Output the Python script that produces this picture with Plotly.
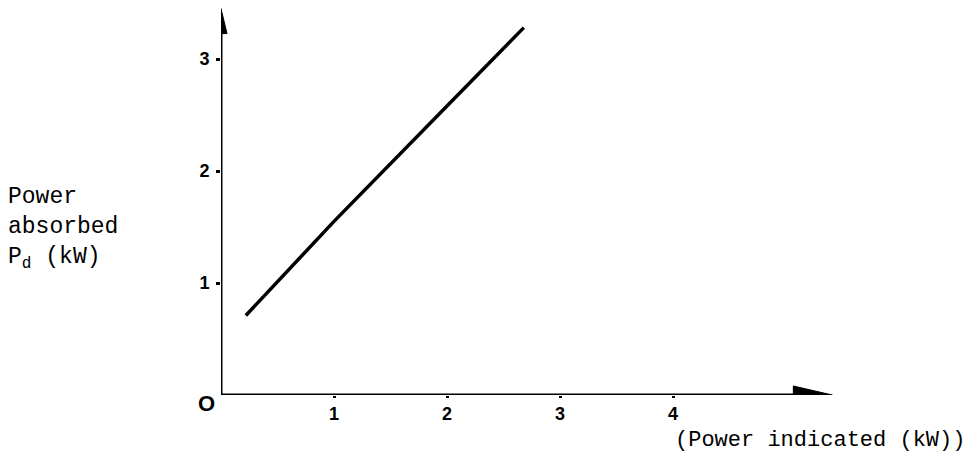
import plotly.graph_objects as go

# line (kW)
power_indicated = [0.22, 1.0, 2.0, 2.68]
power_absorbed = [0.71, 1.55, 2.58, 3.28]

x_ticks = [1, 2, 3, 4]
y_ticks = [1, 2, 3]
x_axis_end = 5.41
y_axis_end = 3.45

# the page body adds an 8px margin, so the figure is drawn 8px smaller
OFF = 8
W, H = 971 - OFF, 474 - OFF
OX, OY = 221 - OFF, 395 - OFF   # origin in figure pixels
L, B = OX, H - OY
UX, UY = 113.0, 112.0           # pixels per kW


def px(xp):
    # reference pixel -> paper x
    return (xp - OFF - L) / (W - L)


def py(yp):
    # reference pixel -> paper y
    return (OY - (yp - OFF)) / OY


mono = "Liberation Mono"
sans = "Liberation Sans"

fig = go.Figure()
fig.add_trace(go.Scatter(x=power_indicated, y=power_absorbed, mode="lines",
                         line=dict(color="black", width=3.5), cliponaxis=False,
                         hoverinfo="skip", showlegend=False))

shapes = [
    # axis lines
    dict(type="line", x0=0, y0=0, x1=x_axis_end - 0.3, y1=0, xref="x", yref="y",
         line=dict(color="black", width=3)),
    dict(type="line", x0=0, y0=0, x1=0, y1=y_axis_end - 0.18, xref="x", yref="y",
         line=dict(color="black", width=3)),
    # arrow heads
    dict(type="path", xref="x", yref="y", xsizemode="pixel", ysizemode="pixel",
         xanchor=x_axis_end, yanchor=0, path="M -39,-9 L 0,0 L -39,9 Z",
         fillcolor="black", line=dict(color="black", width=1)),
    dict(type="path", xref="x", yref="y", xsizemode="pixel", ysizemode="pixel",
         xanchor=0, yanchor=y_axis_end, path="M -6,-25 L 0,0 L 6,-25 Z",
         fillcolor="black", line=dict(color="black", width=1)),
]


def label(text, x, y, xanchor, size, family):
    return dict(text=text, x=px(x), y=py(y), xref="paper", yref="paper",
                showarrow=False, xanchor=xanchor, yanchor="middle", align="left",
                font=dict(family=family, size=size, color="black"))


annotations = [
    label("O", 206, 403, "center", 22, sans),
    label("Power<br>absorbed<br>P<sub>d</sub> (kW)", 6, 228, "left", 23, mono),
    label("(Power indicated (kW))", 967, 440, "right", 22, mono),
]
annotations[0]["font"]["weight"] = "bold"

tick_font = dict(family=sans, size=18, color="black", weight="bold")

fig.update_layout(
    width=W, height=H,
    margin=dict(l=L, r=0, t=0, b=B),
    paper_bgcolor="white", plot_bgcolor="white",
    shapes=shapes, annotations=annotations,
    xaxis=dict(range=[0, (W - L) / UX], tickvals=x_ticks, ticks="outside", ticklen=2,
               tickwidth=3, tickcolor="black", showline=False, showgrid=False,
               zeroline=False, tickfont=tick_font, fixedrange=True),
    yaxis=dict(range=[0, OY / UY], tickvals=y_ticks, ticks="outside", ticklen=4,
               tickwidth=3, tickcolor="black", showline=False, showgrid=False,
               zeroline=False, tickfont=tick_font, ticklabelstandoff=3, fixedrange=True),
)

fig.write_html("out.html")
